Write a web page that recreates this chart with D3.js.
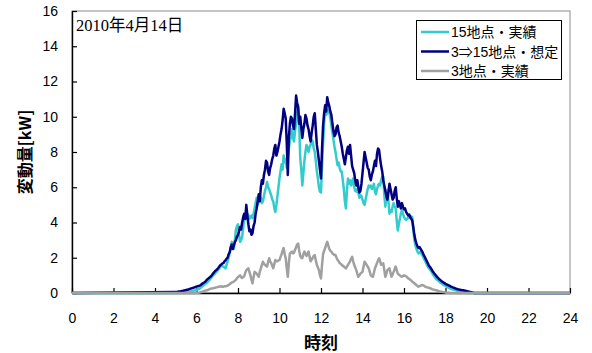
<!DOCTYPE html>
<html><head><meta charset="utf-8">
<script src="https://cdn.jsdelivr.net/npm/d3@7"></script>
<style>body{margin:0;background:#fff;} svg{display:block}</style>
</head><body><svg id="c" width="592" height="353"></svg>
<script>
// ---- data ----
const titleText = "2010年4月14日";
const xLabel = "時刻";
const yLabel = "変動量[kW]";
const xTicks = [0,2,4,6,8,10,12,14,16,18,20,22,24];
const yTicks = [0,2,4,6,8,10,12,14,16];
const seriesNames = ["15地点・実績", "3⇒15地点・想定", "3地点・実績"];
const dayStartHour = 5.0, dayStepHour = 0.05; // samples from 5:00 to 19:24, 3-minute steps
// 15 sites, actual
const actual15 = [
 0,0,0,0,0.01,0.01,0.02,0.02,0.03,0.04,0.05,0.06,0.07,0.08,0.09,0.1,0.12,0.13,0.14,0.15,
 0.17,0.2,0.22,0.26,0.3,0.35,0.4,0.45,0.5,0.54,0.58,0.64,0.7,0.78,0.85,0.92,1.0,1.06,1.12,1.18,
 1.25,1.32,1.4,1.5,1.55,1.52,1.5,1.45,1.4,1.6,1.8,2.0,2.3,2.6,2.9,2.7,2.5,3.0,3.6,3.8,
 3.9,3.3,2.9,3.0,3.2,3.7,4.2,4.4,4.6,4.5,4.4,4.2,4.3,4.4,4.25,4.5,4.8,5.1,5.4,5.0,
 5.2,5.5,5.4,5.1,5.2,5.5,5.8,6.0,6.3,6.0,5.9,5.7,5.55,5.3,5.2,4.8,4.6,5.0,5.5,6.0,
 6.5,6.9,7.3,7.0,7.8,7.4,7.6,7.1,7.8,8.2,8.6,8.9,9.3,8.8,8.6,9.2,9.6,10.2,10.65,9.5,
 7.65,7.0,6.1,6.8,7.5,8.0,8.4,8.2,8.0,8.3,8.4,8.7,8.6,8.2,8.0,7.5,6.9,6.5,6.0,5.75,
 5.7,7.2,8.5,9.6,10.45,10.1,10.2,10.4,10.3,9.9,9.5,9.1,8.7,8.3,8.0,7.6,7.25,7.4,7.1,6.9,
 6.9,6.4,5.9,5.2,4.8,5.8,6.5,6.2,6.4,6.1,6.3,6.5,6.0,5.8,5.75,5.9,5.7,5.4,5.55,5.5,
 5.3,5.1,5.0,5.3,5.6,5.9,6.1,6.0,6.1,5.9,6.0,6.2,5.75,5.6,5.9,6.1,6.2,6.1,6.4,6.6,
 6.6,5.6,4.9,5.4,5.85,5.2,4.5,4.7,4.6,4.9,5.1,4.9,4.8,4.1,3.55,3.9,4.2,4.5,4.7,4.5,
 4.3,4.2,4.15,4.2,4.3,4.25,4.3,4.35,4.3,3.6,3.0,2.7,2.5,2.35,2.25,2.3,2.35,2.2,2.1,1.98,
 1.87,1.73,1.6,1.5,1.4,1.32,1.25,1.15,1.05,0.96,0.88,0.8,0.75,0.7,0.65,0.6,0.55,0.51,0.47,0.43,
 0.4,0.36,0.33,0.3,0.28,0.25,0.22,0.2,0.18,0.16,0.15,0.13,0.11,0.09,0.08,0.06,0.05,0.04,0.03,0.02,
 0.01,0,0,0,0,0,0,0,0
];
// 3 sites -> 15 sites, estimated
const estimated15 = [
 0.05,0.06,0.07,0.08,0.09,0.1,0.11,0.12,0.14,0.15,0.17,0.18,0.2,0.22,0.24,0.26,0.28,0.3,0.32,0.34,
 0.36,0.38,0.4,0.42,0.45,0.5,0.55,0.58,0.62,0.68,0.75,0.8,0.85,0.9,0.95,1.02,1.1,1.18,1.25,1.3,
 1.35,1.42,1.5,1.58,1.62,1.68,1.7,1.8,1.85,1.95,2.0,2.2,2.3,2.6,2.75,2.5,2.7,2.9,3.0,3.2,
 3.3,3.5,3.75,3.6,4.0,4.3,4.5,4.2,5.0,4.4,3.9,3.5,3.6,3.3,3.4,3.8,4.0,4.5,4.8,5.2,
 5.6,5.2,6.0,6.4,6.2,6.7,7.0,7.5,7.4,6.9,6.7,7.1,7.3,7.6,7.8,8.2,8.4,7.8,8.0,8.3,
 8.6,9.0,9.3,9.8,10.45,10.2,9.9,8.5,6.7,8.8,9.6,10.0,9.9,9.5,9.3,10.2,11.2,10.8,10.5,9.6,
 10.0,9.4,8.8,9.3,9.6,10.1,9.9,9.5,9.3,8.9,8.6,9.1,9.5,10.0,10.2,9.3,8.4,8.0,7.5,7.0,
 6.5,8.2,9.5,10.2,10.65,10.3,11.1,10.8,10.6,10.3,10.1,9.6,9.2,8.9,9.0,9.4,9.5,9.1,8.9,8.6,
 8.3,7.9,7.6,7.3,7.7,8.1,8.3,7.9,8.4,7.8,7.2,7.0,6.8,6.4,6.1,6.4,6.0,5.7,5.8,6.2,
 6.8,7.4,8.0,7.7,7.4,7.1,7.0,6.6,6.4,6.7,6.9,7.2,7.5,7.2,7.9,8.2,8.1,7.6,7.2,6.9,
 6.4,6.1,5.8,5.5,5.3,5.7,6.2,5.9,5.6,5.3,5.4,5.8,6.0,5.4,4.9,5.2,5.0,4.8,5.1,4.9,
 4.75,4.8,4.6,4.5,4.4,4.45,4.3,4.2,4.1,3.7,3.3,3.0,2.8,2.65,2.55,2.6,2.5,2.4,2.3,2.15,
 2.05,1.92,1.8,1.68,1.55,1.48,1.4,1.3,1.2,1.12,1.05,0.98,0.9,0.84,0.78,0.73,0.68,0.64,0.6,0.56,
 0.52,0.49,0.46,0.43,0.4,0.37,0.35,0.32,0.3,0.27,0.25,0.23,0.21,0.2,0.18,0.17,0.16,0.15,0.14,0.13,
 0.12,0.1,0.09,0.07,0.06,0.04,0.03,0.01,0
];
// 3 sites, actual
const actual3 = [
 0,0,0,0,0,0,0,0,0,0,0,0,0,0,0,0,0,0,0,0,
 0,0.01,0.02,0.03,0.05,0.06,0.08,0.1,0.12,0.14,0.15,0.18,0.2,0.23,0.25,0.26,0.27,0.29,0.3,0.32,
 0.33,0.35,0.36,0.37,0.38,0.35,0.36,0.38,0.38,0.4,0.42,0.46,0.5,0.55,0.6,0.62,0.65,0.7,0.75,0.85,
 0.9,0.95,1.0,0.9,0.85,0.9,0.95,1.15,1.3,1.35,1.4,1.2,1.0,0.75,0.55,0.9,1.2,1.15,1.1,1.0,
 0.92,1.2,1.4,1.6,1.77,1.65,1.6,1.55,1.5,1.75,1.97,1.8,1.7,1.55,1.4,1.65,1.87,1.8,1.8,1.85,
 1.87,2.05,2.2,2.4,2.55,2.2,1.97,1.4,0.92,1.7,2.25,2.3,2.35,2.25,2.3,2.45,2.6,2.75,2.8,2.4,
 2.1,2.0,1.97,2.2,2.35,2.2,2.1,2.25,2.35,2.05,1.8,1.9,2.0,2.1,2.15,1.85,1.6,1.45,1.3,1.0,
 0.83,1.6,2.2,2.4,2.55,2.75,2.9,2.7,2.5,2.4,2.35,2.25,2.2,2.15,2.15,2.0,1.87,1.8,1.7,1.65,
 1.6,1.55,1.5,1.45,1.4,1.5,1.6,1.7,1.8,1.95,2.05,1.8,1.6,1.45,1.3,1.1,0.92,1.0,1.1,1.15,
 1.2,1.5,1.77,1.7,1.6,1.5,1.4,1.2,1.0,0.95,0.92,1.15,1.4,1.55,1.7,1.85,1.97,1.8,1.6,1.65,
 1.68,1.3,0.92,1.1,1.3,1.35,1.4,1.15,0.92,1.05,1.2,1.35,1.5,1.3,1.1,1.05,1.0,0.95,0.92,0.96,
 1.0,0.98,0.95,0.9,0.83,0.8,0.75,0.7,0.64,0.6,0.55,0.5,0.45,0.4,0.36,0.39,0.42,0.44,0.45,0.42,
 0.38,0.35,0.32,0.31,0.3,0.28,0.25,0.22,0.2,0.18,0.17,0.15,0.14,0.12,0.1,0.08,0.07,0.06,0.05,0.04,
 0.03,0.02,0.02,0.01,0.01,0,0,0,0,0,0,0,0,0,0,0,0,0,0,0,
 0,0,0,0,0,0,0,0,0
];
const colors = ["#33CCCC", "#000080", "#A0A0A0"];

// ---- chart ----
const svg = d3.select("#c");
const m = {l:72, r:570, t:11, b:293};
const x = d3.scaleLinear().domain([0,24]).range([m.l, m.r]);
const y = d3.scaleLinear().domain([0,16]).range([m.b, m.t]);
const sansFont = "'Liberation Sans', Arial, 'Noto Sans CJK JP', sans-serif";

// plot area border
svg.append("rect").attr("x", m.l).attr("y", m.t).attr("width", m.r-m.l).attr("height", m.b-m.t)
  .attr("fill", "none").attr("stroke", "#8c8c8c").attr("stroke-width", 1);

const yAx = svg.append("g").attr("transform", `translate(${m.l},0)`)
  .call(d3.axisLeft(y).tickValues(yTicks).tickSizeInner(-5).tickSizeOuter(0).tickPadding(14).tickFormat(d3.format("d")));
const xAx = svg.append("g").attr("transform", `translate(0,${m.b})`)
  .call(d3.axisBottom(x).tickValues(xTicks).tickSizeInner(-5).tickSizeOuter(0).tickPadding(20).tickFormat(d3.format("d")));
[yAx, xAx].forEach(g => {
  g.selectAll("path.domain").attr("stroke", "#000").attr("stroke-width", 1.4);
  g.selectAll(".tick line").attr("stroke", "#000").attr("stroke-width", 1.2);
  g.selectAll(".tick text").attr("font-family", sansFont).attr("font-size", 14).attr("fill", "#000");
});

// series
const hours = actual15.map((_, i) => dayStartHour + i*dayStepHour);
function withBaseline(vals) {
  return [[0,0]].concat(vals.map((v,i)=>[hours[i], v])).concat([[24,0]]);
}
const line = d3.line().x(d => x(d[0])).y(d => y(d[1]));
const allSeries = [actual15, estimated15, actual3];
allSeries.forEach((vals, k) => {
  svg.append("path").datum(withBaseline(vals)).attr("d", line)
    .attr("fill", "none").attr("stroke", colors[k]).attr("stroke-width", 2.5)
    .attr("stroke-linejoin", "round");
});

// title
svg.append("text").attr("x", 76).attr("y", 31).text(titleText)
  .attr("font-family", "'Liberation Serif', 'Noto Sans CJK JP', serif").attr("font-size", 16.5).attr("fill", "#000");

// axis labels
svg.append("text").attr("x", (m.l+m.r)/2).attr("y", 349).attr("text-anchor", "middle").text(xLabel)
  .attr("font-family", "'Noto Sans CJK JP', sans-serif").attr("font-size", 17).attr("font-weight", "bold").attr("fill", "#000");
svg.append("text").attr("transform", `translate(31,${(m.t+m.b)/2}) rotate(-90)`).attr("text-anchor", "middle").text(yLabel)
  .attr("font-family", "'Noto Sans CJK JP', sans-serif").attr("font-size", 16).attr("font-weight", "bold").attr("fill", "#000");

// legend
const lg = svg.append("g");
lg.append("rect").attr("x", 416.5).attr("y", 20.5).attr("width", 145).attr("height", 59)
  .attr("fill", "#fff").attr("stroke", "#000").attr("stroke-width", 1);
seriesNames.forEach((name, i) => {
  const cy = 32 + i*19.5;
  lg.append("line").attr("x1", 421).attr("x2", 449).attr("y1", cy).attr("y2", cy)
    .attr("stroke", colors[i]).attr("stroke-width", 2.5);
  lg.append("text").attr("x", 451).attr("y", cy).attr("dy", "0.36em").text(name)
    .attr("font-family", sansFont).attr("font-size", 14).attr("fill", "#000");
});
</script></body></html>
